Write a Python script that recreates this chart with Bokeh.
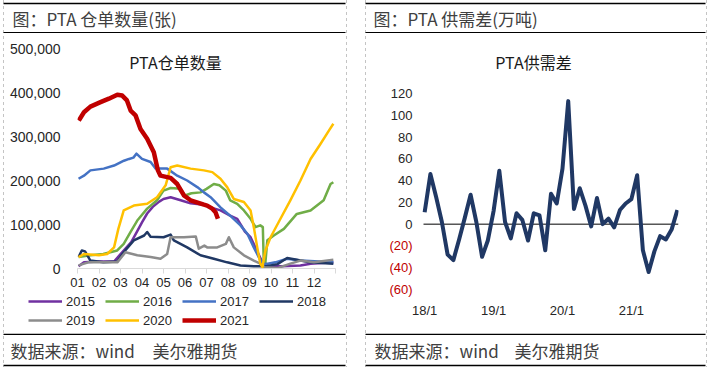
from bokeh.plotting import figure
from bokeh.layouts import row, column
from bokeh.models import (Range1d, FixedTicker, NumeralTickFormatter, Label,
                          Legend, LegendItem)
from bokeh.core.properties import value
from bokeh.embed import file_html
from bokeh.resources import INLINE

CJK = "Noto Sans CJK SC"
NUM = "Liberation Sans"

# ---------------- data: PTA warehouse receipts (x = month of year, 0 = Jan 1; values in sheets) -------------
MONTH_LABELS = ["01", "02", "03", "04", "05", "06", "07", "08", "09", "10", "11", "12"]
YEARS = ["2015", "2016", "2017", "2018", "2019", "2020", "2021"]

X2015 = [0.05, 0.3, 1.0, 1.7, 2.15, 2.5, 2.78, 3.0, 3.24, 3.5, 3.8, 4.0, 4.33, 4.8, 5.26, 5.88, 6.19, 6.65,
         7.1, 7.43, 7.8, 8.05, 8.3, 8.6, 8.8, 9.5, 10.37, 10.84, 11.9]
V2015 = [5000, 14000, 16000, 16000, 41000, 60000, 85000, 105000, 125000, 140000, 152000, 158000, 162000,
         155000, 148000, 145000, 139000, 132000, 120000, 113000, 83000, 71000, 45000, 14000, 5000, 5000,
         7000, 11000, 14000]

X2016 = [0.05, 0.6, 1.2, 1.85, 2.15, 2.47, 2.78, 3.24, 3.7, 4.0, 4.33, 4.8, 5.0, 5.3, 5.72, 6.0, 6.34, 6.6,
         6.9, 7.1, 7.43, 7.74, 8.05, 8.28, 8.5, 8.62, 8.67, 8.72, 8.83, 9.13, 9.6, 10.2, 10.84, 11.45, 11.77, 11.9]
V2016 = [26000, 30000, 33000, 41000, 56000, 83000, 109000, 136000, 155000, 177000, 183000, 181000, 166000,
         171000, 173000, 181000, 192000, 189000, 177000, 155000, 147000, 132000, 113000, 94000, 98000, 94000,
         3000, 3000, 64000, 75000, 90000, 124000, 132000, 155000, 192000, 196000]

X2017 = [0.05, 0.3, 0.6, 1.22, 1.7, 2.16, 2.4, 2.6, 2.74, 3.0, 3.4, 3.63, 4.17, 4.64, 5.1, 5.57, 5.88, 6.19,
         6.65, 7.1, 7.58, 7.9, 8.2, 8.43, 8.6, 8.85, 9.2, 9.75, 10.37, 11.9]
V2017 = [204000, 211000, 223000, 227000, 234000, 245000, 249000, 252000, 261000, 249000, 242000, 227000,
         227000, 211000, 200000, 185000, 173000, 162000, 139000, 120000, 98000, 79000, 48000, 26000, 11000,
         11000, 14000, 22000, 18000, 14000]

X2018 = [0.05, 0.2, 0.35, 0.6, 1.2, 1.85, 2.15, 2.62, 3.1, 3.24, 3.4, 4.0, 4.33, 4.48, 5.1, 5.72, 6.34, 6.96,
         7.58, 8.2, 8.8, 9.3, 9.75, 10.2, 10.8, 11.9]
V2018 = [26000, 41000, 39000, 18000, 14000, 16000, 37000, 64000, 75000, 83000, 72000, 71000, 77000, 64000,
         48000, 30000, 22000, 14000, 7000, 5000, 5000, 10000, 24000, 20000, 14000, 11000]

X2019 = [0.05, 0.5, 1.2, 1.85, 2.23, 2.78, 3.4, 3.86, 4.17, 4.33, 4.95, 5.5, 5.64, 5.9, 6.03, 6.5, 6.9, 7.04,
         7.27, 7.74, 8.2, 8.5, 8.7, 9.3, 9.9, 10.37, 11.0, 11.9]
V2019 = [7000, 14000, 14000, 14000, 37000, 30000, 26000, 22000, 33000, 71000, 71000, 73000, 45000, 52000,
         48000, 48000, 56000, 71000, 48000, 30000, 18000, 11000, 3000, 1000, 11000, 18000, 14000, 20000]

X2020 = [0.05, 0.3, 1.0, 1.38, 1.7, 1.9, 2.15, 2.62, 3.24, 3.7, 4.1, 4.33, 4.64, 5.26, 5.88, 6.27, 6.65, 6.96,
         7.27, 7.74, 8.05, 8.2, 8.36, 8.5, 8.6, 8.74, 8.98, 9.44, 9.9, 10.37, 10.84, 11.3, 11.7, 11.9]
V2020 = [26000, 33000, 30000, 33000, 48000, 90000, 132000, 143000, 147000, 162000, 189000, 230000, 234000,
         227000, 223000, 219000, 204000, 185000, 158000, 151000, 132000, 94000, 48000, 11000, 3000, 41000,
         71000, 113000, 155000, 200000, 249000, 283000, 314000, 329000]

X2021 = [0.06, 0.3, 0.6, 1.07, 1.46, 1.85, 2.08, 2.3, 2.47, 2.7, 2.93, 3.24, 3.55, 3.74, 3.86, 4.33, 4.64,
         4.95, 5.26, 5.88, 6.03, 6.27, 6.42, 6.53]
V2021 = [336000, 355000, 368000, 378000, 386000, 395000, 393000, 382000, 359000, 348000, 317000, 295000,
         264000, 223000, 211000, 206000, 192000, 166000, 155000, 145000, 143000, 136000, 128000, 113000]

STOCK_TICKS = [0, 100000, 200000, 300000, 400000, 500000]

# ---------------- data: PTA supply-demand balance (monthly, 2018/1 .. 2021/9, 10k t) -------------
BALANCE = [11, 46, 25, 2, -28, -33, -14, 6, 27, 2, -30, -15,
           12, 49, 2, -13, 10, 4, -15, 10, 8, -24, 28, 19,
           51, 113, 14, 33, 17, -2, 24, 0, 5, -3, 13, 19,
           23, 45, -24, -44, -25, -11, -14, -5, 13]
BAL_TICK_POS = [0, 12, 24, 36]
BAL_TICK_LABELS = ["18/1", "19/1", "20/1", "21/1"]
BAL_Y_TICKS = [120, 100, 80, 60, 40, 20, 0, -20, -40, -60]

SERIES = [(X2015, V2015), (X2016, V2016), (X2017, V2017), (X2018, V2018),
          (X2019, V2019), (X2020, V2020), (X2021, V2021)]
COLORS = ["#7030A0", "#70AD47", "#4472C4", "#203864", "#8C8C8C", "#FFC000", "#C00000"]
WIDTHS = [2.5, 2.5, 2.5, 2.5, 2.5, 2.5, 4.5]

LW, RW = 357, 353
HEAD_H, FOOT_H = 33, 34
CHART_H = 300
LCHART_H, LEG_H = 260, 40
TEXT_GRAY = "#404040"
TICK_COLOR = "#262626"
NEG_COLOR = "#C00000"


def blank(width, height):
    p = figure(width=width, height=height, x_range=Range1d(0, width), y_range=Range1d(0, height),
               output_backend="svg", toolbar_location=None, x_axis_type=None, y_axis_type=None,
               min_border_left=0, min_border_right=0, min_border_top=0, min_border_bottom=0)
    p.frame_align = False
    p.outline_line_color = None
    p.background_fill_color = None
    p.border_fill_color = None
    return p


def deco(width, height, texts, lx0, lx1, ys):
    p = blank(width, height)
    p.segment(x0=[lx0] * len(ys), y0=ys, x1=[lx1] * len(ys), y1=ys, line_color="black", line_width=1.6)
    for t, tx, ty in texts:
        p.text(x=[tx], y=[ty], text=[t], text_font=value(CJK), text_font_size="17px",
               text_color=TEXT_GRAY, text_baseline="middle", text_align="left")
    return p


def style_chart(p):
    p.frame_align = False
    p.outline_line_color = None
    p.xgrid.visible = False
    p.ygrid.visible = False
    p.background_fill_color = None
    p.border_fill_color = None


# ---------------- left chart ----------------
pl = figure(width=LW, height=LCHART_H, x_range=Range1d(0, 12), y_range=Range1d(0, 500000),
            output_backend="svg", toolbar_location=None,
            min_border_left=77, min_border_right=LW - 335, min_border_top=15, min_border_bottom=25)
style_chart(pl)

for (xs, vs), c, w in zip(SERIES, COLORS, WIDTHS):
    pl.line(xs, vs, line_color=c, line_width=w, line_join="round")

xa = pl.xaxis[0]
xa.ticker = FixedTicker(ticks=list(range(13)))
ov = {i: lab for i, lab in enumerate(MONTH_LABELS)}
ov[12] = ""
xa.major_label_overrides = ov
xa.axis_line_color = "#D9D9D9"
xa.major_tick_line_color = "#D9D9D9"
xa.major_tick_out = 5
xa.major_tick_in = 0
xa.minor_tick_line_color = None
xa.major_label_standoff = 4
xa.major_label_text_font = NUM
xa.major_label_text_font_size = "13px"
xa.major_label_text_color = TICK_COLOR

ya = pl.yaxis[0]
ya.ticker = FixedTicker(ticks=STOCK_TICKS)
ya.formatter = NumeralTickFormatter(format="0,0")
ya.axis_line_color = None
ya.major_tick_line_color = None
ya.minor_tick_line_color = None
ya.major_label_standoff = 11
ya.major_label_text_font = NUM
ya.major_label_text_font_size = "14px"
ya.major_label_text_color = TICK_COLOR

pl.add_layout(Label(x=98, y=207, x_units="screen", y_units="screen", text="PTA仓单数量",
                    text_font=CJK, text_font_size="16px", text_font_style="normal",
                    text_color="#1A1A1A", text_align="center", text_baseline="middle"))

# legend strip under the left chart: same series, drawn outside this strip's ranges (only the keys show)
pleg = blank(LW, LEG_H)
leg_rends = [pleg.line(xs, vs, line_color=c, line_width=w)
             for (xs, vs), c, w in zip(SERIES, COLORS, WIDTHS)]


def mk_legend(idx, loc):
    return Legend(items=[LegendItem(label=YEARS[i], renderers=[leg_rends[i]]) for i in idx],
                  location=loc, orientation="horizontal",
                  background_fill_alpha=0, border_line_color=None, padding=0, margin=0,
                  spacing=8, glyph_width=34, glyph_height=16, label_height=16, label_width=31,
                  label_standoff=4, label_text_font=NUM, label_text_font_size="13px",
                  label_text_color=TICK_COLOR)


pleg.add_layout(mk_legend([0, 1, 2, 3], (28, 24)), "center")
pleg.add_layout(mk_legend([4, 5, 6], (28, 5)), "center")

# ---------------- right chart ----------------
# plot area (where the data lives) in the chart's own pixels; the frame covers the whole
# chart so that the tick labels and the title stay inside it.
R_PLOT_L, R_PLOT_R = 66, 321      # px of x = X_LO and x = X_HI
R_PLOT_T, R_PLOT_B = 60, 256      # px of y = Y_HI and y = Y_LO
X_LO, X_HI = -0.2, len(BALANCE) - 1 + 0.2
Y_LO, Y_HI = -60, 120
x_per_px = (X_HI - X_LO) / (R_PLOT_R - R_PLOT_L)
y_per_px = (Y_HI - Y_LO) / (R_PLOT_B - R_PLOT_T)

pr = figure(width=RW, height=CHART_H,
            x_range=Range1d(X_LO - R_PLOT_L * x_per_px, X_HI),
            y_range=Range1d(Y_LO - (CHART_H - R_PLOT_B) * y_per_px, Y_HI + R_PLOT_T * y_per_px),
            output_backend="svg", toolbar_location=None,
            min_border_left=0, min_border_right=RW - R_PLOT_R, min_border_top=0, min_border_bottom=0)
style_chart(pr)
pr.xaxis.visible = False
pr.yaxis.visible = False

# zero line, then the balance series
pr.segment(x0=[X_LO], y0=[0], x1=[X_HI], y1=[0], line_color="black", line_width=1)
pr.line(list(range(len(BALANCE))), BALANCE, line_color="#203864", line_width=4, line_join="round")

# y tick labels: negatives in red with parentheses
ytxt = [str(v) if v >= 0 else "(%d)" % abs(v) for v in BAL_Y_TICKS]
ycol = [TICK_COLOR if v >= 0 else NEG_COLOR for v in BAL_Y_TICKS]
pr.text(x=[X_LO] * len(BAL_Y_TICKS), y=BAL_Y_TICKS, text=ytxt, text_color=ycol, x_offset=-11,
        text_align="right", text_baseline="middle", text_font=value(NUM), text_font_size="13px")

# x tick labels (category axis, low position)
pr.text(x=BAL_TICK_POS, y=[Y_LO] * len(BAL_TICK_POS), text=BAL_TICK_LABELS, y_offset=21,
        text_align="center", text_baseline="middle", text_color=TICK_COLOR,
        text_font=value(NUM), text_font_size="13px")

pr.add_layout(Label(x=176, y=CHART_H - 28, x_units="screen", y_units="screen", text="PTA供需差",
                    text_font=CJK, text_font_size="16px", text_font_style="normal",
                    text_color="#1A1A1A", text_align="center", text_baseline="middle"))

# ---------------- headers / footers ----------------
hl = deco(LW, HEAD_H, [("图：PTA 仓单数量(张)", 12, 15)], 3, 345, [30, 0.8])
fl = deco(LW, FOOT_H, [("数据来源：wind", 10, 17), ("美尔雅期货", 152, 17)], 3, 345, [33.2, 2])
hr = deco(RW, HEAD_H, [("图：PTA 供需差(万吨)", 16, 15)], 8, 348, [30, 0.8])
fr = deco(RW, FOOT_H, [("数据来源：wind", 17, 17), ("美尔雅期货", 157, 17)], 8, 348, [33.2, 2])

DASH = "repeating-linear-gradient(to bottom, #C4C4C4 0px, #C4C4C4 3px, transparent 3px, transparent 6px)"


def cell_style(x0, x1):
    return {"background-image": DASH + ", " + DASH,
            "background-size": "1px 100%, 1px 100%",
            "background-position": "%dpx 0px, %dpx 0px" % (x0, x1),
            "background-repeat": "no-repeat"}


left = column(hl, pl, pleg, fl, styles=cell_style(3, 346))
right = column(hr, pr, fr, styles=cell_style(8, 349))
layout = row(left, right)

with open("out.html", "w", encoding="utf-8") as f:
    f.write(file_html(layout, INLINE, title="PTA"))
